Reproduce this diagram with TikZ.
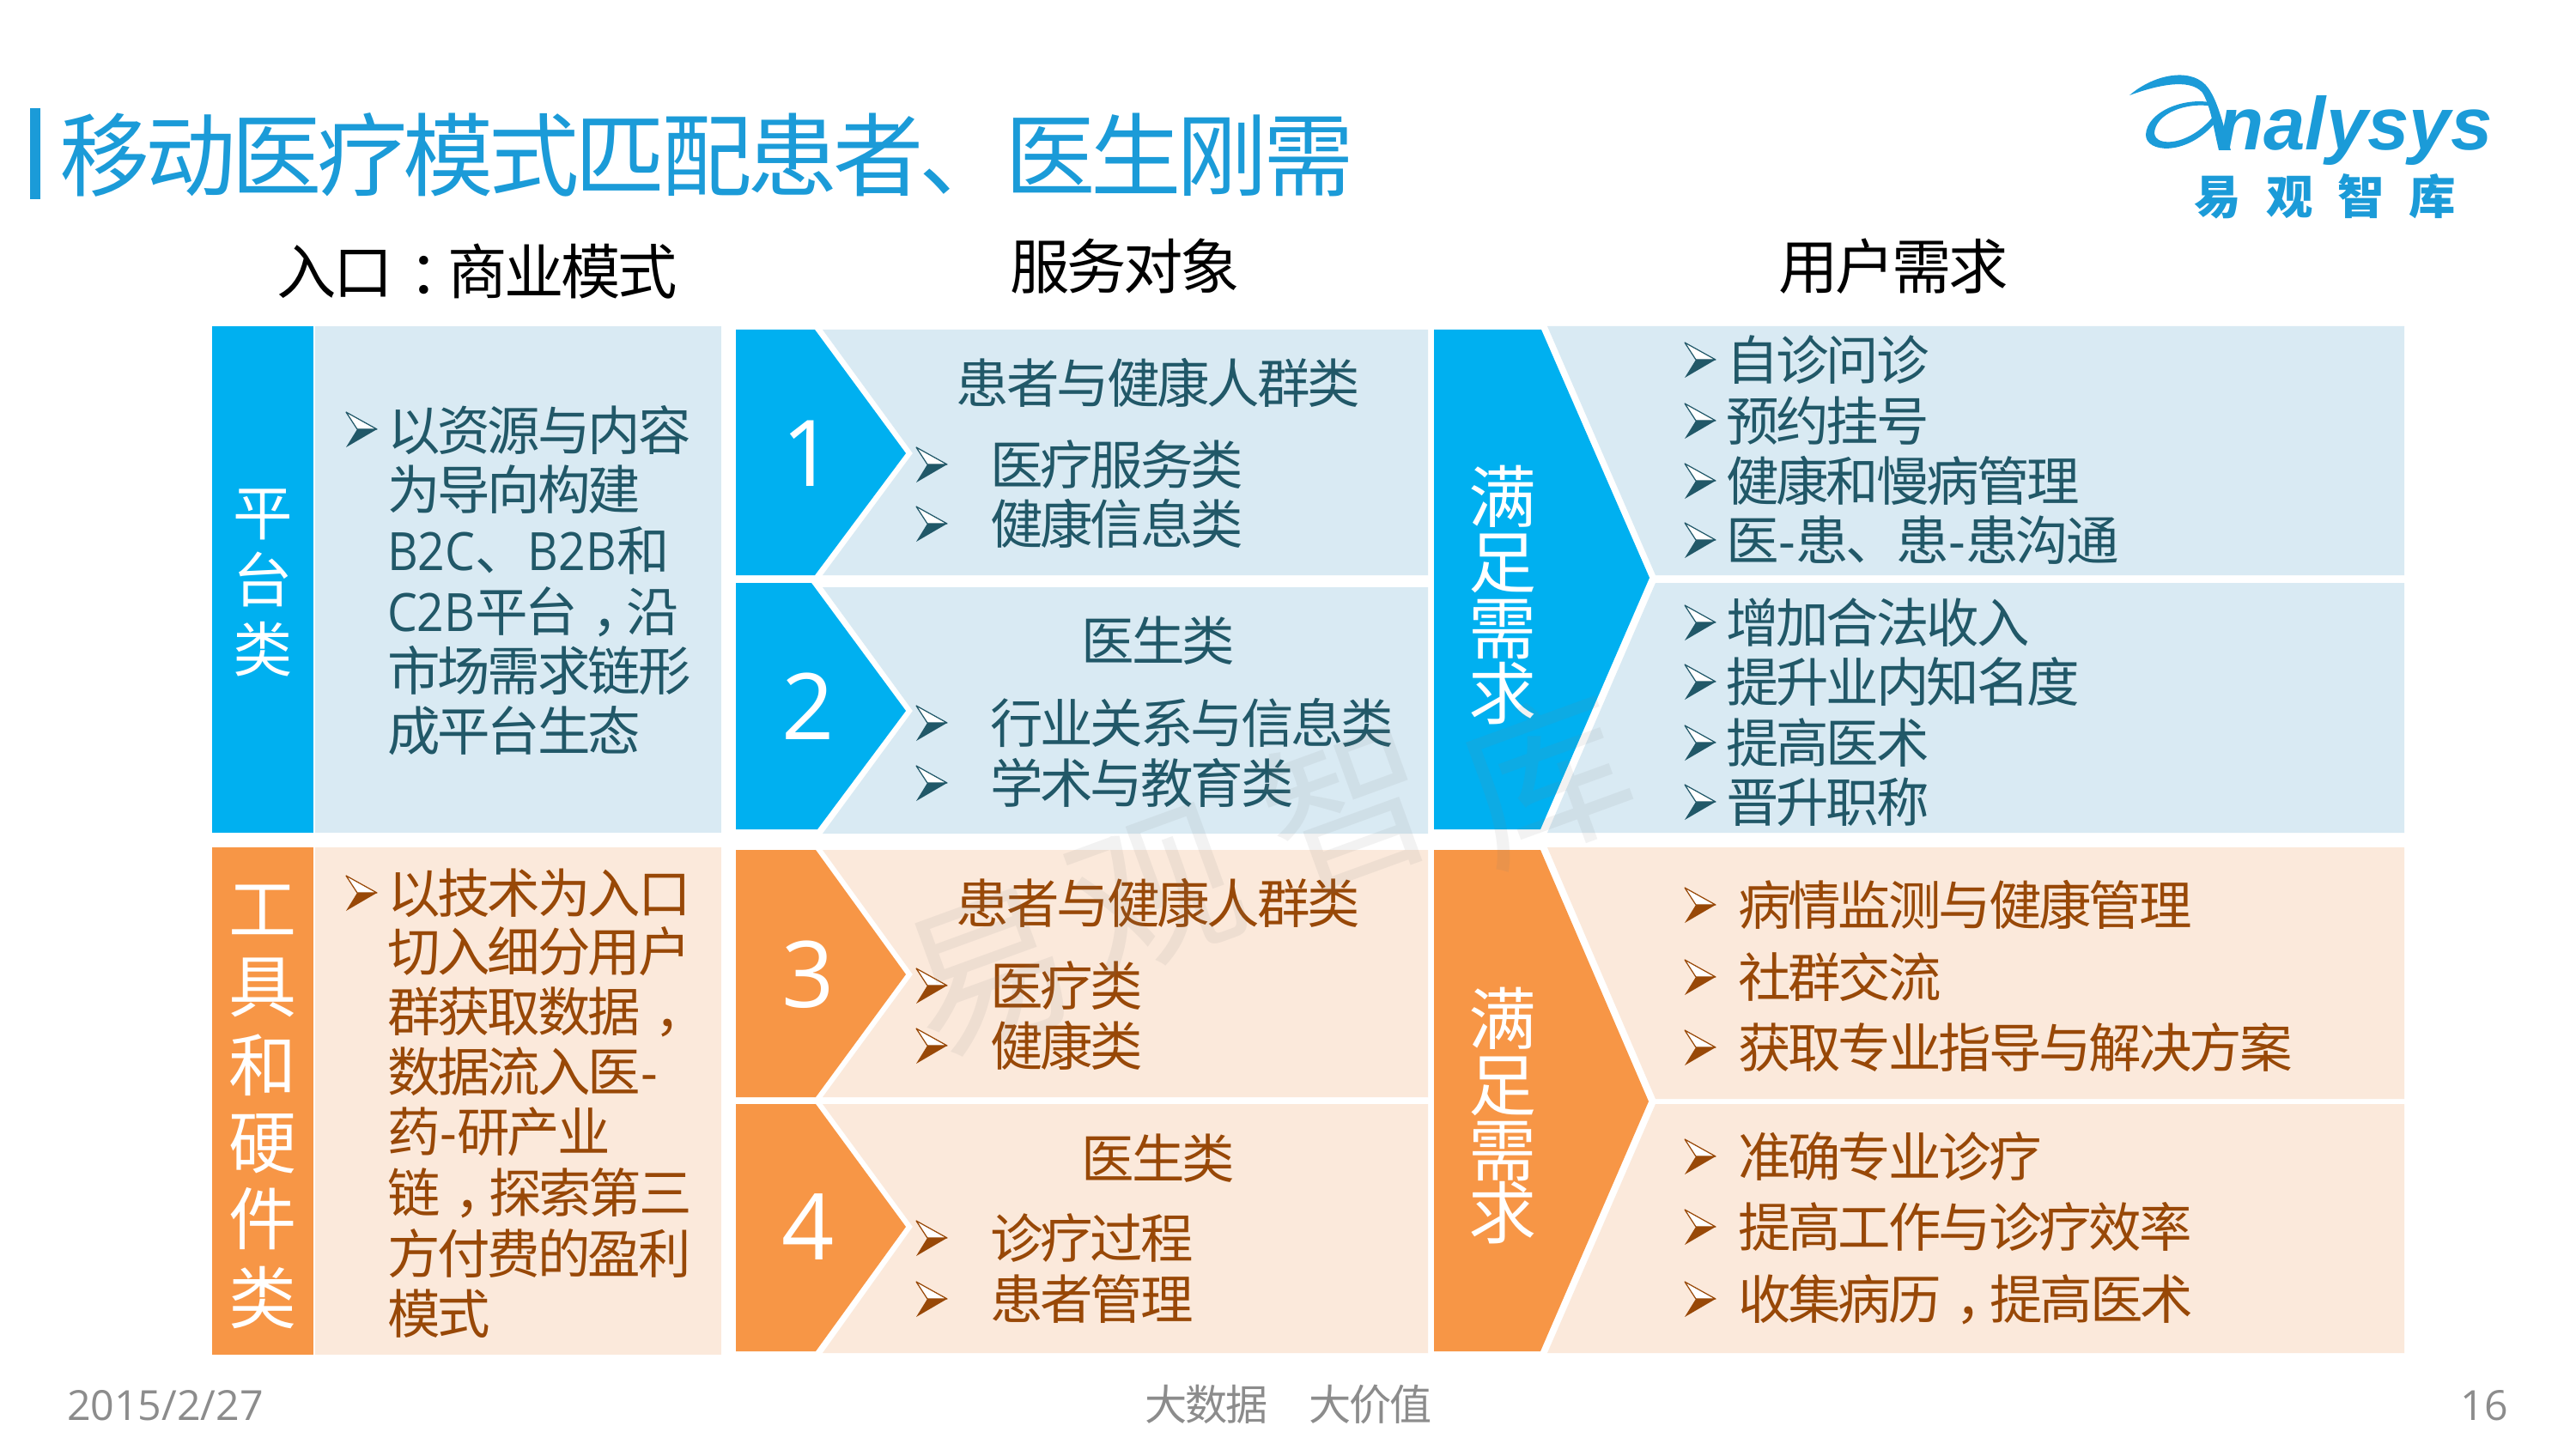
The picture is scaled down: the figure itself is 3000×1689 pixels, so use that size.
\documentclass[tikz,border=0pt]{standalone}
\usepackage{fontspec}
\setmainfont[LetterSpace=-5]{Noto Sans CJK SC}
\newfontfamily\laf{Open Sans}
\newfontfamily\lan[FakeStretch=0.9]{Open Sans}
\newfontfamily\lgf{Liberation Sans}
\newcommand\cm[1]{\kern.27em #1\kern-.35em}
\definecolor{cblue}{HTML}{00B0F0}
\definecolor{corange}{HTML}{F79646}
\definecolor{lblue}{HTML}{D9EAF3}
\definecolor{lorange}{HTML}{FBE9DB}
\definecolor{tblue}{HTML}{215868}
\definecolor{torange}{HTML}{984807}
\definecolor{ttl}{HTML}{1B9BD8}
\definecolor{foot}{HTML}{8C8C8C}
\tikzset{
 x=0.02cm,y=-0.02cm,
 tf/.style 2 args={inner sep=0pt,outer sep=0pt,font=#1\fontsize{#2pt}{#2pt}\selectfont,text height={.88*#2pt},text depth={.12*#2pt}},
 bb/.style={tf={}{35},anchor=west,text=tblue,xshift=-0.04cm},
 bo/.style={tf={}{35},anchor=west,text=torange,xshift=-0.04cm},
 cb/.style={tf={}{35},text=tblue},
 co/.style={tf={}{35},text=torange},
 head/.style={tf={}{39.5},text=black},
 num/.style={tf={\laf}{61},text=white},
 vs/.style={tf={}{39.5},text=white},
 vl/.style={tf={}{45},text=white},
 foots/.style={tf={}{28},text=foot},
 footl/.style={tf={\laf}{27.5},text=foot},
 wm/.style={tf={}{110},text=gray,opacity=.10},
 lw/.style={tf={\bfseries}{31},text=ttl},
 bul/.pic={
   \filldraw[fill=white,draw=#1,line width=0.7pt,line join=round] (-18,-20) -- (18,0) -- (-5,0) -- cycle;
   \fill[#1] (-5,0) -- (18,0) -- (-18,21) -- cycle;
 },
}
\begin{document}
\begin{tikzpicture}
\useasboundingbox (0,0) rectangle (3000,1689);
\fill[white] (0,0) rectangle (3000,1689);
% title
\fill[ttl] (35,126) rectangle (47,232);
\node[tf={}{60},anchor=west,text=ttl] (title) at (69,180) {移动医疗模式匹配患者、医生刚需};
% headers
\node[head] (h1) at (556,316) {入口\cm{：}商业模式};
\node[head] (h2) at (1310,310) {服务对象};
\node[head] (h3) at (2205,310) {用户需求};
% left column
\fill[cblue] (247,380) rectangle (365,970);
\fill[lblue] (367,380) rectangle (840,970);
\fill[corange] (247,987) rectangle (365,1578);
\fill[lorange] (367,987) rectangle (840,1578);
\node[vs] (p1) at (306,597) {平};
\node[vs] (p2) at (306,675) {台};
\node[vs] (p3) at (306,756) {类};
\node[vl] (g1) at (306,1058) {工};
\node[vl] (g2) at (306,1148) {具};
\node[vl] (g3) at (306,1240) {和};
\node[vl] (g4) at (306,1330) {硬};
\node[vl] (g5) at (306,1419) {件};
\node[vl] (g6) at (306,1511) {类};
\pic at (421,500) {bul=tblue};
\node[bb] (l1) at (453,501) {以资源与内容};
\node[bb] (l2) at (453,570) {为导向构建};
\node[bb] (l3) at (453,641) {{\lan B2C}、{\lan B2B}和};
\node[bb] (l4) at (453,712) {{\lan C2B}平台\cm{，}沿};
\node[bb] (l5) at (453,781) {市场需求链形};
\node[bb] (l6) at (453,851) {成平台生态};
\pic at (421,1040) {bul=torange};
\node[bo] (m1) at (453,1040) {以技术为入口};
\node[bo] (m2) at (453,1108) {切入细分用户};
\node[bo] (m3) at (453,1178) {群获取数据\cm{，}};
\node[bo] (m4) at (453,1248) {数据流入医{\laf -}};
\node[bo] (m5) at (453,1318) {药{\laf -}研产业};
\node[bo] (m6) at (453,1389) {链\cm{，}探索第三};
\node[bo] (m7) at (453,1460) {方付费的盈利};
\node[bo] (m8) at (453,1530) {模式};
% middle panels
\fill[lblue] (958,384) -- (1663,384) -- (1663,670) -- (958,670) -- (1063,528) -- cycle;
\fill[lblue] (958,684) -- (1663,684) -- (1663,971) -- (958,971) -- (1063,828) -- cycle;
\fill[lorange] (958,990) -- (1663,990) -- (1663,1278) -- (958,1278) -- (1063,1135) -- cycle;
\fill[lorange] (958,1286) -- (1663,1286) -- (1663,1576) -- (958,1576) -- (1063,1429) -- cycle;
\fill[cblue] (857,384) -- (949,384) -- (1055,528) -- (949,670) -- (857,670) -- cycle;
\fill[cblue] (857,679) -- (945,679) -- (1055,828) -- (952,966) -- (857,966) -- cycle;
\fill[corange] (857,990) -- (950,990) -- (1055,1135) -- (950,1278) -- (857,1278) -- cycle;
\fill[corange] (857,1286) -- (950,1286) -- (1055,1429) -- (950,1574) -- (857,1574) -- cycle;
\node[num] (n1) at (941,526) {1};
\node[num] (n2) at (941,821) {2};
\node[num] (n3) at (941,1133) {3};
\node[num] (n4) at (941,1427) {4};
\node[cb] (c1) at (1349,446) {患者与健康人群类};
\pic at (1085,541) {bul=tblue};
\node[bb] (c1b) at (1155,541) {医疗服务类};
\pic at (1085,610) {bul=tblue};
\node[bb] (c1d) at (1155,610) {健康信息类};
\node[cb] (c2) at (1349,746) {医生类};
\pic at (1085,842) {bul=tblue};
\node[bb] (c2b) at (1155,842) {行业关系与信息类};
\pic at (1085,912) {bul=tblue};
\node[bb] (c2d) at (1155,912) {学术与教育类};
\node[co] (c3) at (1349,1052) {患者与健康人群类};
\pic at (1085,1148) {bul=torange};
\node[bo] (c3b) at (1155,1148) {医疗类};
\pic at (1085,1218) {bul=torange};
\node[bo] (c3d) at (1155,1218) {健康类};
\node[co] (c4) at (1349,1349) {医生类};
\pic at (1085,1442) {bul=torange};
\node[bo] (c4b) at (1155,1442) {诊疗过程};
\pic at (1085,1513) {bul=torange};
\node[bo] (c4d) at (1155,1513) {患者管理};
% right panels
\fill[lblue] (1802,380) -- (2800,380) -- (2800,670) -- (1928,670) -- cycle;
\fill[lblue] (1928,679) -- (2800,679) -- (2800,970) -- (1802,970) -- cycle;
\fill[lorange] (1802,987) -- (2800,987) -- (2800,1280) -- (1928,1280) -- cycle;
\fill[lorange] (1928,1286) -- (2800,1286) -- (2800,1576) -- (1802,1576) -- cycle;
\fill[cblue] (1670,384) -- (1795,384) -- (1921,673) -- (1794,966) -- (1670,966) -- cycle;
\fill[corange] (1670,990) -- (1794,990) -- (1920,1283) -- (1794,1574) -- (1670,1574) -- cycle;
\node[vl] (s1) at (1750,578) {满};
\node[vl] (s2) at (1750,654) {足};
\node[vl] (s3) at (1750,731) {需};
\node[vl] (s4) at (1750,807) {求};
\node[vl] (u1) at (1750,1186) {满};
\node[vl] (u2) at (1750,1263) {足};
\node[vl] (u3) at (1750,1339) {需};
\node[vl] (u4) at (1750,1412) {求};
\pic at (1980,419) {bul=tblue};
\node[bb] (r1) at (2012,419) {自诊问诊};
\pic at (1980,490) {bul=tblue};
\node[bb] (r2) at (2012,490) {预约挂号};
\pic at (1980,560) {bul=tblue};
\node[bb] (r3) at (2012,560) {健康和慢病管理};
\pic at (1980,629) {bul=tblue};
\node[bb] (r4) at (2012,629) {医{\laf -}患、患{\laf -}患沟通};
\pic at (1980,725) {bul=tblue};
\node[bb] (r5) at (2012,725) {增加合法收入};
\pic at (1980,794) {bul=tblue};
\node[bb] (r6) at (2012,794) {提升业内知名度};
\pic at (1980,865) {bul=tblue};
\node[bb] (r7) at (2012,865) {提高医术};
\pic at (1980,934) {bul=tblue};
\node[bb] (r8) at (2012,934) {晋升职称};
\pic at (1980,1054) {bul=torange};
\node[bo] (q1) at (2026,1054) {病情监测与健康管理};
\pic at (1980,1138) {bul=torange};
\node[bo] (q2) at (2026,1138) {社群交流};
\pic at (1980,1220) {bul=torange};
\node[bo] (q3) at (2026,1220) {获取专业指导与解决方案};
\pic at (1980,1347) {bul=torange};
\node[bo] (q4) at (2026,1347) {准确专业诊疗};
\pic at (1980,1429) {bul=torange};
\node[bo] (q5) at (2026,1429) {提高工作与诊疗效率};
\pic at (1980,1513) {bul=torange};
\node[bo] (q6) at (2026,1513) {收集病历\cm{，}提高医术};
% footer
\node[footl,anchor=west] (f1) at (78,1636) {2015/2/27};
\node[foots] (f2) at (1405,1636) {大数据};
\node[foots] (f3) at (1596,1636) {大价值};
\node[footl,anchor=east] (f4) at (2921,1636) {16};
% logo
\fill[ttl] (2480,111) .. controls (2510,85) and (2555,78) .. (2572,103) .. controls (2584,120) and (2590,150) .. (2598,175) -- (2584,175) .. controls (2578,150) and (2575,125) .. (2565,108) .. controls (2550,90) and (2510,100) .. (2480,111) -- cycle;
\fill[ttl,even odd rule] (2578,120) .. controls (2545,112) and (2500,130) .. (2499,157) .. controls (2499,178) and (2545,182) .. (2578,145) -- (2578,135) .. controls (2550,170) and (2510,172) .. (2509,155) .. controls (2510,133) and (2545,118) .. (2578,124) -- cycle;
\node[inner sep=0pt,anchor=base west,text=ttl,font=\lgf\bfseries\itshape\fontsize{49.5pt}{50pt}\selectfont] (logo) at (2583,175) {nalysys};
\node[lw] (w1) at (2583,229) {易};
\node[lw] (w2) at (2667,229) {观};
\node[lw] (w3) at (2750,229) {智};
\node[lw] (w4) at (2833,229) {库};
% watermark
\node[wm,rotate=20] (wm1) at (1150,1130) {易};
\node[wm,rotate=20] (wm2) at (1345,1035) {观};
\node[wm,rotate=20] (wm3) at (1570,940) {智};
\node[wm,rotate=20] (wm4) at (1800,905) {库};
\end{tikzpicture}
\end{document}
